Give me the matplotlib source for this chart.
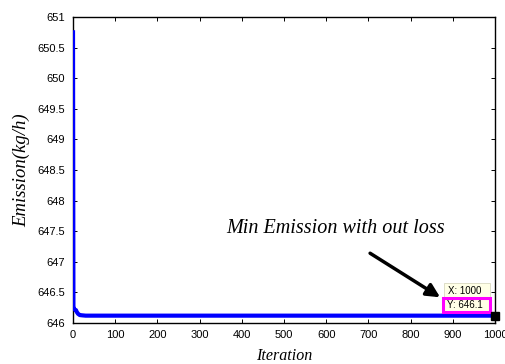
import matplotlib
matplotlib.use("Agg")
import matplotlib.pyplot as plt
from matplotlib.patches import Rectangle

# Data
iterations = [0, 1, 2, 4, 7, 9, 12, 16, 22, 30, 60, 1000]
emission = [650.75, 646.28, 646.23, 646.22, 646.21, 646.18, 646.15, 646.13, 646.125, 646.12, 646.12, 646.12]
x_ticks = [0, 100, 200, 300, 400, 500, 600, 700, 800, 900, 1000]
y_ticks = [646, 646.5, 647, 647.5, 648, 648.5, 649, 649.5, 650, 650.5, 651]
y_tick_labels = ["646", "646.5", "647", "647.5", "648", "648.5", "649", "649.5", "650", "650.5", "651"]
tip_x = 1000
tip_y = 646.12
annotation_text = "Min Emission with out loss"
tip_lines = ["X: 1000", "Y: 646.1"]

W, H = 506, 364
fig = plt.figure(figsize=(W / 100, H / 100), dpi=100)
L, R, T, B = 73, 495, 17, 323
ax = fig.add_axes([L / W, (H - B) / H, (R - L) / W, (B - T) / H])

ax.plot(iterations, emission, color="#0000ff", lw=3.0, solid_joinstyle="round", zorder=3)
ax.plot([tip_x], [tip_y], marker="s", color="black", markersize=5.5, clip_on=False, zorder=6)

ax.set_xlim(0, 1000)
ax.set_ylim(646, 651)
ax.set_xticks(x_ticks)
ax.set_yticks(y_ticks)
ax.set_yticklabels(y_tick_labels)
for lbl in ax.get_xticklabels() + ax.get_yticklabels():
    lbl.set_fontfamily(["Liberation Sans", "DejaVu Sans"])
    lbl.set_fontsize(8)
ax.tick_params(direction="in", length=3, width=0.7, top=True, right=True, colors="black")
ax.tick_params(axis="y", pad=6)
ax.tick_params(axis="x", pad=5)
for s in ax.spines.values():
    s.set_linewidth(1.0)
    s.set_color("black")

serif = ["Liberation Serif", "DejaVu Serif"]
ax.set_xlabel("Iteration", fontfamily=serif, fontstyle="italic", fontsize=11.5, labelpad=6)
ax.set_ylabel("Emission(kg/h)", fontfamily=serif, fontstyle="italic", fontsize=13.5, labelpad=5)

ax.text(623, 647.55, annotation_text, fontfamily=serif, fontstyle="italic", fontsize=14.5,
        ha="center", va="center")
ax.annotate("", xy=(870, 646.42), xytext=(704, 647.14),
            arrowprops=dict(arrowstyle="-|>,head_length=0.8,head_width=0.4", color="black", lw=2.5,
                            shrinkA=0, shrinkB=0))

def afx(px):
    return (px - L) / (R - L)

def afy(py):
    return (B - py) / (B - T)

ax.add_patch(Rectangle((afx(444), afy(312)), afx(490) - afx(444), afy(283) - afy(312),
                       transform=ax.transAxes, facecolor="#ffffe6", edgecolor="#d8d8c0",
                       lw=0.6, clip_on=False, zorder=4))
ax.add_patch(Rectangle((afx(443.5), afy(312)), afx(490.5) - afx(443.5), afy(298) - afy(312),
                       transform=ax.transAxes, facecolor="none", edgecolor="#ff00ff",
                       lw=2.2, clip_on=False, zorder=5))
ax.text(afx(448), afy(290.5), tip_lines[0], transform=ax.transAxes, fontfamily=["Liberation Sans"],
        fontsize=7, ha="left", va="center", zorder=6)
ax.text(afx(447), afy(305), tip_lines[1], transform=ax.transAxes, fontfamily=["Liberation Sans"],
        fontsize=7, ha="left", va="center", zorder=6)

fig.savefig("out.png", dpi=100)
